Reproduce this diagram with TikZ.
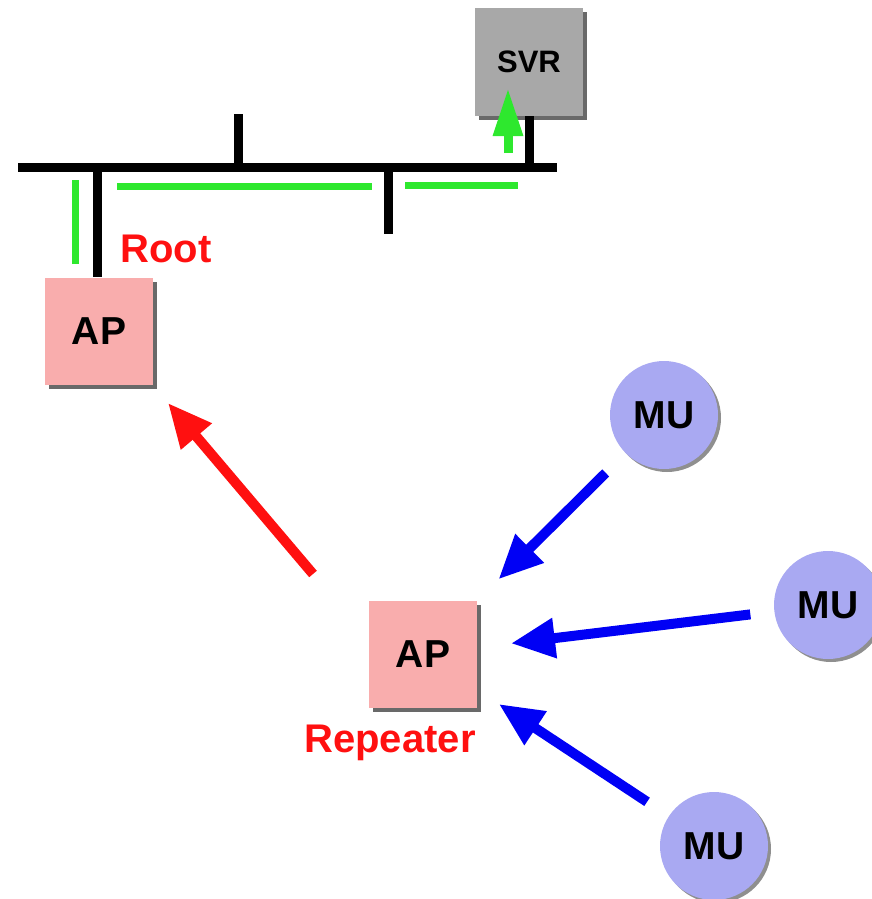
\documentclass[tikz,border=0pt]{standalone}
\usepackage{fontspec}
\setmainfont{Liberation Sans}
\usetikzlibrary{arrows.meta,shadows}
\definecolor{apfill}{HTML}{F9ADAD}
\definecolor{svrfill}{HTML}{A8A8A8}
\definecolor{mufill}{HTML}{A9A9F2}
\definecolor{grn}{HTML}{2EE82E}
\definecolor{redc}{HTML}{FF1010}
\definecolor{bluec}{HTML}{0000F5}
\begin{document}
\begin{tikzpicture}[x=1pt,y=-1pt,
  boxshadow/.style={drop shadow={shadow xshift=4pt,shadow yshift=-4pt,fill=black!65,opacity=0.9}},
  apbox/.style={rectangle,fill=apfill,minimum width=108pt,minimum height=107pt,inner sep=0pt,boxshadow,
    font=\fontsize{39}{41}\selectfont\bfseries},
  svrbox/.style={rectangle,fill=svrfill,minimum width=108pt,minimum height=107pt,inner sep=0pt,boxshadow,
    font=\fontsize{31}{33}\selectfont\bfseries},
  munode/.style={circle,fill=mufill,minimum size=108pt,inner sep=0pt,
    drop shadow={shadow xshift=3pt,shadow yshift=-3pt,fill=black!55,opacity=0.8},
    font=\fontsize{39}{41}\selectfont\bfseries},
  redlabel/.style={text=redc,font=\fontsize{40}{42}\selectfont\bfseries},
  wire/.style={line width=9pt,black},
  grnline/.style={line width=7pt,grn},
  bigarrow/.style={line width=10pt,-{Triangle[length=44pt,width=38pt]}},
]
\useasboundingbox (0,0) rectangle (872,899);
% nodes
\node[svrbox] (svr) at (529,62) {SVR};
\node[apbox] (root) at (99,331) {AP};
\node[apbox] (rep) at (423,654) {AP};
\node[munode] (mu1) at (664,415) {MU};
\node[munode] (mu2) at (828,605) {MU};
\node[munode] (mu3) at (714,846) {MU};
\node[redlabel] (rootlbl) at (166,249) {Root};
\node[redlabel] (replbl) at (390,743) {Repeater};
% bus coordinates
\coordinate (busL) at (18,167);
\coordinate (busR) at (557,167);
\coordinate (tapUpTop) at (238,114);
\coordinate (tapUpBot) at (238,167);
\coordinate (tapDnTop) at (388,167);
\coordinate (tapDnBot) at (388,234);
\coordinate (rootBus) at (97,167);
\coordinate (svrBus) at (529,167);
% wires
\draw[wire] (busL) -- (busR);
\draw[wire] (tapUpTop) -- (tapUpBot);
\draw[wire] (tapDnTop) -- (tapDnBot);
\draw[wire] (rootBus) -- (root.north -| rootBus);
\draw[wire] (svrBus) -- (svr.south -| svrBus);
% green path
\coordinate (g1a) at (75,264);
\coordinate (g1b) at (75,180);
\coordinate (g2a) at (117,186);
\coordinate (g2b) at (372,186);
\coordinate (g3a) at (405,185);
\coordinate (g3b) at (518,185);
\coordinate (g4a) at (508,153);
\coordinate (g4b) at (508,88);
\draw[grnline] (g1a) -- (g1b);
\draw[grnline] (g2a) -- (g2b);
\draw[grnline] (g3a) -- (g3b);
\draw[grn,line width=9pt,-{Triangle[length=48pt,width=28pt]}] (g4a) -- (g4b);
% red arrow
\coordinate (redS) at (313,574);
\coordinate (redE) at (168,403);
\draw[bigarrow,redc] (redS) -- (redE);
% blue arrows
\draw[bigarrow,bluec,shorten <=28pt,shorten >=30pt] (mu1) -- (rep);
\draw[bigarrow,bluec,shorten <=24pt,shorten >=34pt] (mu2) -- (rep);
\draw[bigarrow,bluec,shorten <=26pt,shorten >=26pt] (mu3) -- (rep);
\end{tikzpicture}
\end{document}
